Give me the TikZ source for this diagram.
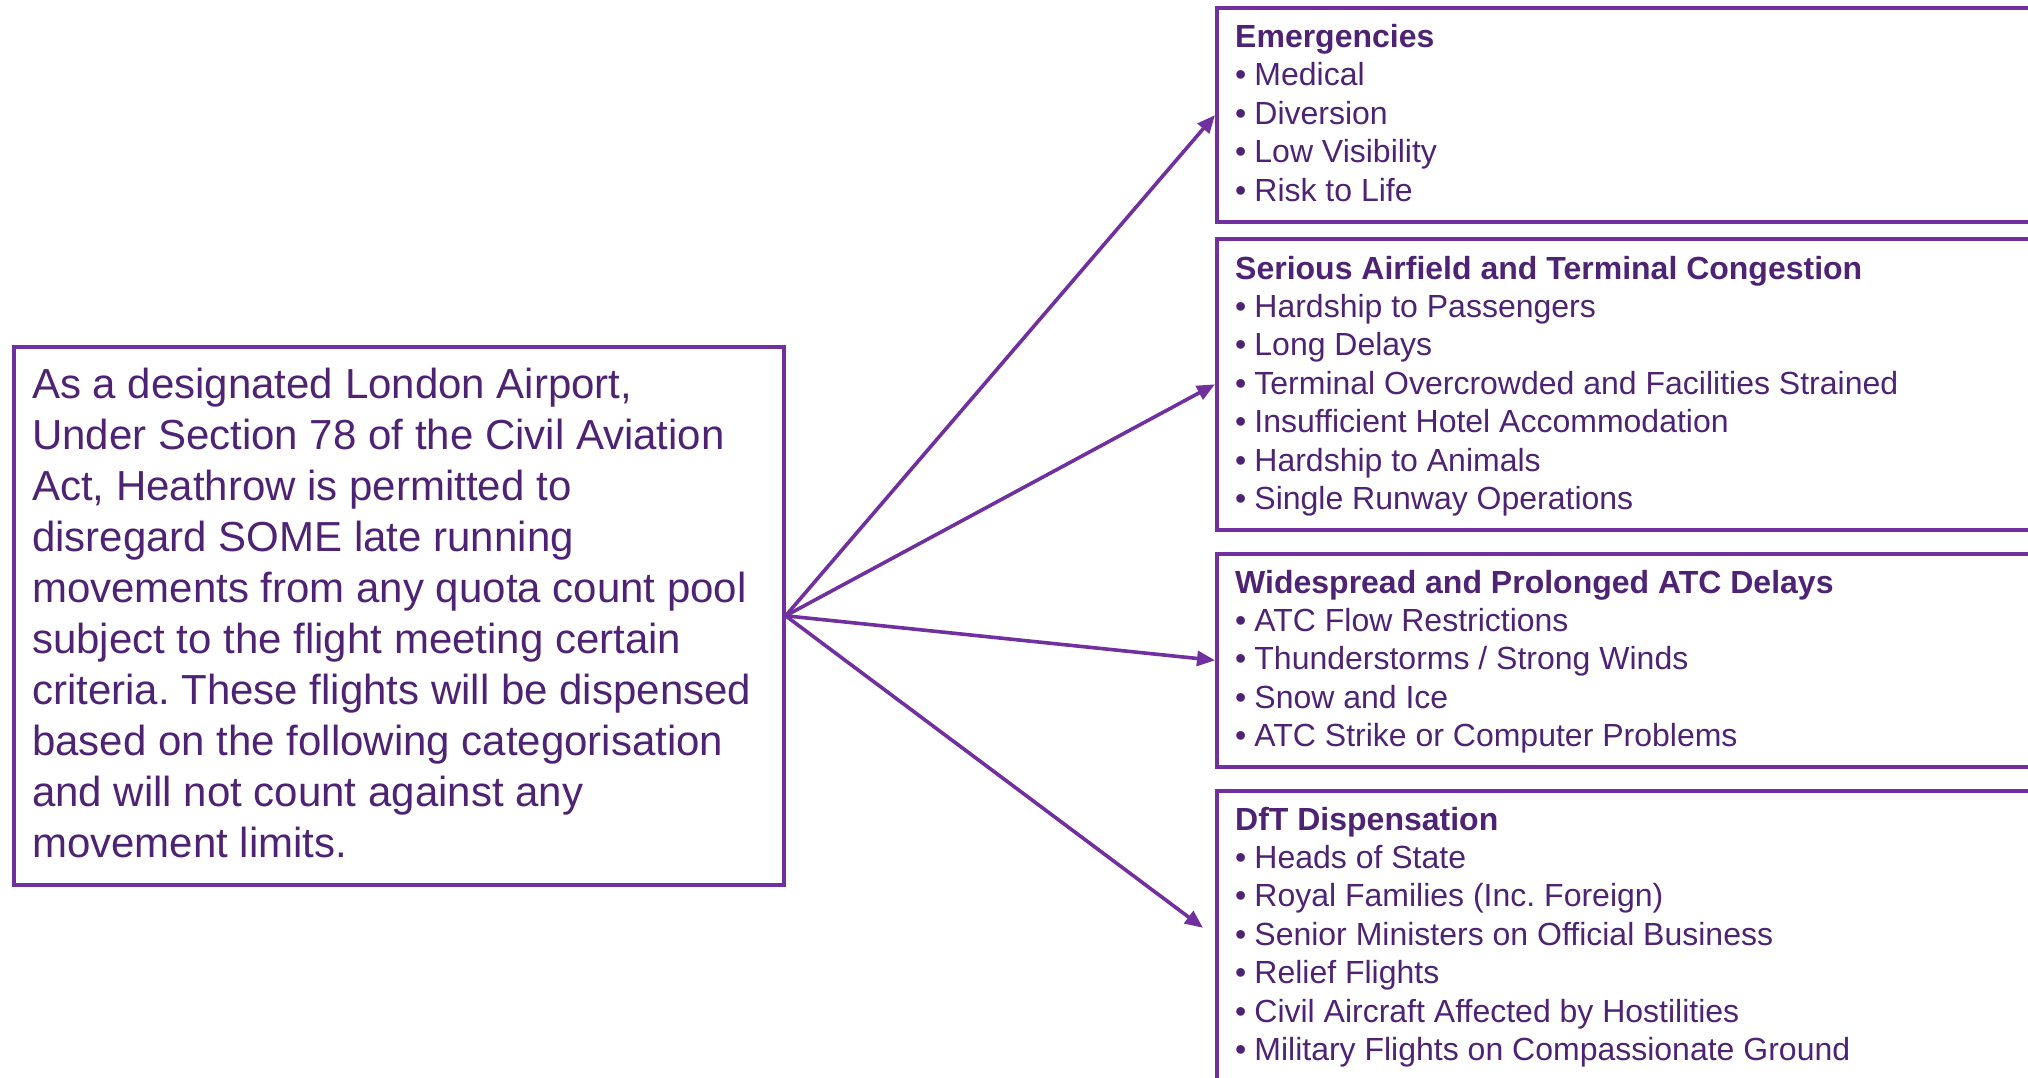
\documentclass[tikz,border=0pt]{standalone}
\usepackage{fontspec}
\setmainfont{Liberation Sans}
\usetikzlibrary{arrows.meta}
\frenchspacing
\definecolor{boxpurple}{HTML}{7030A0}
\definecolor{txtpurple}{HTML}{4E2374}
\tikzset{
  box/.style={draw=boxpurple, line width=3.6pt, rectangle, inner sep=0pt, anchor=north west},
  bigtxt/.style={anchor=base west, inner sep=0pt, text=txtpurple, font=\fontsize{42}{50}\selectfont},
  ttl/.style={anchor=base west, inner sep=0pt, text=txtpurple, font=\fontsize{32}{38}\selectfont\bfseries},
  itm/.style={anchor=base west, inner sep=0pt, text=txtpurple, font=\fontsize{32}{38}\selectfont},
  conn/.style={draw=boxpurple, line width=3.6pt, -{Triangle[length=18pt,width=15pt]}}
}
\begin{document}
\begin{tikzpicture}[x=1pt,y=-1pt]
\useasboundingbox (0,0) rectangle (2028,1078);
\clip (0,0) rectangle (2028,1078);
% left box
\node[box, minimum width=770pt, minimum height=538pt] (L) at (12,345) {};
\foreach \t [count=\i from 0] in {
  {As a designated London Airport,},
  {Under Section 78 of the Civil Aviation},
  {Act, Heathrow is permitted to},
  {disregard SOME late running},
  {movements from any quota count pool},
  {subject to the flight meeting certain},
  {criteria. These flights will be dispensed},
  {based on the following categorisation},
  {and will not count against any},
  {movement limits.}}
  \node[bigtxt] (lt\i) at (32,{398+51*\i}) {\t};
% right boxes
\node[box, minimum width=900pt, minimum height=213.5pt] (b1) at (1215,6.5) {};
\node[box, minimum width=900pt, minimum height=291pt] (b2) at (1215,237) {};
\node[box, minimum width=900pt, minimum height=213pt] (b3) at (1215,552) {};
\node[box, minimum width=900pt, minimum height=292pt] (b4) at (1215,789) {};
% box 1
\node[ttl] (t1) at (1235,47.5) {Emergencies};
\foreach \t [count=\i] in {Medical, Diversion, Low Visibility, Risk to Life}
  \node[itm] (i1-\i) at (1235,{47.5+38.4*\i}) {•\hspace{8pt}\t};
% box 2
\node[ttl] (t2) at (1235,279) {Serious Airfield and Terminal Congestion};
\foreach \t [count=\i] in {Hardship to Passengers, Long Delays, Terminal Overcrowded and Facilities Strained, Insufficient Hotel Accommodation, Hardship to Animals, Single Runway Operations}
  \node[itm] (i2-\i) at (1235,{279+38.4*\i}) {•\hspace{8pt}\t};
% box 3
\node[ttl] (t3) at (1235,593) {Widespread and Prolonged ATC Delays};
\foreach \t [count=\i] in {ATC Flow Restrictions, Thunderstorms / Strong Winds, Snow and Ice, ATC Strike or Computer Problems}
  \node[itm] (i3-\i) at (1235,{593+38.4*\i}) {•\hspace{8pt}\t};
% box 4
\node[ttl] (t4) at (1235,830) {DfT Dispensation};
\foreach \t [count=\i] in {Heads of State, Royal Families (Inc. Foreign), Senior Ministers on Official Business, Relief Flights, Civil Aircraft Affected by Hostilities, Military Flights on Compassionate Ground}
  \node[itm] (i4-\i) at (1235,{830+38.4*\i}) {•\hspace{8pt}\t};
% connectors
\draw[conn] (L.east) -- (b1.west);
\draw[conn] (L.east) -- (b2.west);
\draw[conn] (L.east) -- (b3.west);
\draw[conn, shorten >=15pt] (L.east) -- (b4.west);
\end{tikzpicture}
\end{document}
